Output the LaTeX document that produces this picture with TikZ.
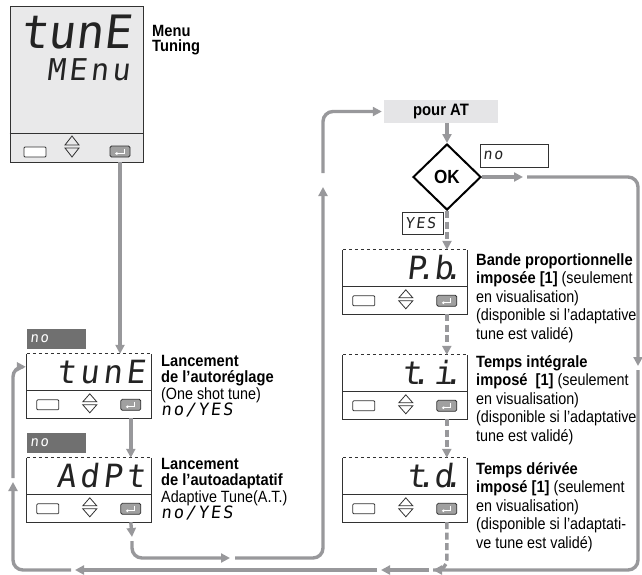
\documentclass[tikz,border=0pt]{standalone}
\usepackage{fontspec}
\setmainfont{Liberation Sans}[FakeStretch=0.88, BoldFeatures={FakeStretch=0.9}]
\newfontfamily\segfont{DejaVu Sans Mono}[FakeSlant=0.12]
\newfontfamily\segwide{DejaVu Sans Mono}[FakeSlant=0.12, LetterSpace=12]
\usetikzlibrary{arrows.meta,positioning,shapes.geometric}

\definecolor{flowgray}{RGB}{152,152,155}
\definecolor{lcdgray}{RGB}{233,233,234}
\definecolor{boxgray}{RGB}{229,229,231}
\definecolor{tagdark}{RGB}{112,112,112}
\definecolor{btngray}{RGB}{160,160,160}
\definecolor{rimgray}{RGB}{50,50,50}
\definecolor{lcdtext}{RGB}{35,35,35}

% point decimal de l'afficheur
\newcommand{\dotcell}{\kern-0.3em.\kern-0.05em}

\tikzset{
  panel/.style={fill=white, minimum width=124pt, minimum height=64pt, inner sep=0},
  rim/.style={draw=rimgray, line width=0.9pt},
  lcd/.style={font=\segwide\fontsize{32}{32}\selectfont, text=lcdtext, inner sep=0},
  esckey/.style={draw=rimgray, line width=0.8pt, fill=white, rounded corners=1pt,
    minimum width=22pt, minimum height=10pt, inner sep=0},
  entkey/.style={draw=rimgray, line width=0.8pt, fill=btngray, rounded corners=1.5pt,
    minimum width=20pt, minimum height=11pt, inner sep=0},
  retsym/.style={draw=white, line width=0.9pt, -{Triangle[length=2.4pt,width=3.2pt]}},
}

% afficheur a touches : nom, gauche, haut, texte
\newcommand{\lcdpanel}[4]{%
  \node[panel] (#1) at (#2+62,#3+32) {};
  \draw[rim] (#1.north west) -- (#1.south west) -- (#1.south east) -- (#1.north east);
  \draw[rim, dashed] (#1.north west) -- (#1.north east);
  \draw[rim] ([yshift=-37pt]#1.north west) -- ([yshift=-37pt]#1.north east);
  \node[lcd, anchor=base east] (#1-lcd) at ([xshift=-6pt,yshift=-30pt]#1.north east) {#4};
  \node[esckey] (#1-esc) at ([xshift=21pt,yshift=-51pt]#1.north west) {};
  \draw[rim, line width=0.8pt] ([xshift=56pt,yshift=-48pt]#1.north west) -- ++(7,-8) -- ++(7,8) -- cycle;
  \draw[rim, line width=0.8pt] ([xshift=56pt,yshift=-51pt]#1.north west) -- ++(7,8) -- ++(7,-8) -- cycle;
  \node[entkey] (#1-ent) at ([xshift=104pt,yshift=-51pt]#1.north west) {};
  \draw[retsym] ([xshift=4pt,yshift=3pt]#1-ent.center) -- ++(0,5) -- ++(-9,0);
}

\begin{document}
\begin{tikzpicture}[x=1pt, y=-1pt,
    flowarrow/.style={draw=flowgray, line width=3.4pt, rounded corners=10pt,
      -{Triangle[length=9pt,width=9pt]}},
    flowdash/.style={flowarrow, dash pattern=on 7pt off 3.5pt},
    flowend/.style={draw=flowgray, line width=3.4pt, rounded corners=10pt, dash pattern=on 7pt off 3.5pt},
    desc/.style={font=\fontsize{16.3}{18.5}\selectfont, align=left, anchor=north west, inner sep=0},
    descl/.style={desc, font=\fontsize{16.3}{16.5}\selectfont},
    graytag/.style={fill=tagdark, text=white, font=\segwide\fontsize{14}{14}\selectfont,
      text width=53pt, align=left, minimum height=20pt, inner sep=3pt},
    linetag/.style={draw=rimgray, line width=0.8pt, fill=white, text=lcdtext,
      font=\segwide\fontsize{15}{15}\selectfont, align=left, inner sep=3pt}]
\useasboundingbox (0,0) rectangle (642,574);

% menu tuning
\node[panel, fill=lcdgray, draw=rimgray, line width=0.9pt, minimum width=133pt, minimum height=156pt] (menu) at (76.5,84) {};
\draw[rim] ([yshift=-128pt]menu.north west) -- ([yshift=-128pt]menu.north east);
\node[lcd, font=\segfont\fontsize{46}{46}\selectfont, anchor=base west] (menu-lcd1) at (20,48) {tunE};
\node[lcd, font=\segwide\fontsize{30}{30}\selectfont, anchor=base east] (menu-lcd2) at (130,80) {MEnu};
\node[esckey] (menu-esc) at (35,152) {};
\draw[rim, line width=0.8pt] (65,145) -- ++(7,-9) -- ++(7,9) -- cycle;
\draw[rim, line width=0.8pt] (65,148) -- ++(7,9) -- ++(7,-9) -- cycle;
\node[entkey] (menu-ent) at (120,151.5) {};
\draw[retsym] ([xshift=4pt,yshift=3pt]menu-ent.center) -- ++(0,5) -- ++(-9,0);
\node[descl, font=\fontsize{16.3}{15.5}\selectfont] (menu-txt) at (152,25) {\textbf{Menu}\\\textbf{Tuning}};

% afficheurs
\lcdpanel{tune}{27}{354}{tunE}
\lcdpanel{adpt}{27}{458}{AdPt}
\lcdpanel{pb}{343}{250}{\segfont P\dotcell b\dotcell}
\lcdpanel{ti}{343}{355}{\segfont t\dotcell\kern0.15em i\dotcell}
\lcdpanel{td}{343}{458}{\segfont t\dotcell d\dotcell}

\node[graytag] (tune-tag) at (56.5,339) {no};
\node[graytag] (adpt-tag) at (56.5,442.5) {no};

% textes
\node[descl] (tune-txt) at (161,355) {\textbf{Lancement}\\\textbf{de l’autoréglage}\\(One shot tune)\\{\segwide\fontsize{17}{17}\selectfont no/YES}};
\node[descl] (adpt-txt) at (161,458) {\textbf{Lancement}\\\textbf{de l’autoadaptatif}\\Adaptive Tune(A.T.)\\{\segwide\fontsize{17}{17}\selectfont no/YES}};
\node[desc] (pb-txt) at (476,253) {\textbf{Bande proportionnelle}\\\textbf{imposée [1]} (seulement\\en visualisation)\\(disponible si l’adaptative\\tune est validé)};
\node[desc] (ti-txt) at (476,355) {\textbf{Temps intégrale}\\\textbf{imposé\ \ [1]} (seulement\\en visualisation)\\(disponible si l’adaptative\\tune est validé)};
\node[desc] (td-txt) at (476,462) {\textbf{Temps dérivée}\\\textbf{imposé [1]} (seulement\\en visualisation)\\(disponible si l’adaptati-\\ve tune est validé)};

% test AT
\node[fill=boxgray, minimum width=114pt, minimum height=23pt, inner sep=0, font=\bfseries\fontsize{16.5}{16.5}\selectfont] (pour) at (441,111.5) {pour AT};
\node[diamond, draw=black, line width=2pt, fill=white, minimum width=68pt, minimum height=66pt, inner sep=0,
  font=\bfseries\fontsize{19}{19}\selectfont] (ok) at (447,177) {OK};
\node[linetag, text width=62pt, minimum height=23pt] (ok-no) at (514,155.5) {no};
\node[linetag, text width=35pt, minimum height=22pt] (ok-yes) at (422.5,223) {YES};

% points de passage
\coordinate (gA1) at (132,537);
\coordinate (gA2) at (132,541);
\coordinate (gA3) at (230,558);
\coordinate (gA4) at (235,558);
\coordinate (gA5) at (323,187);
\coordinate (gA6) at (323,173);
\coordinate (gB1) at (523,177);
\coordinate (gB2) at (527,177);
\coordinate (gB3) at (638,366);
\coordinate (gB4) at (638,370);
\coordinate (gB5) at (433,570);
\coordinate (gB6) at (429,570);
\coordinate (gB7) at (381,570);
\coordinate (gB8) at (377,570);
\coordinate (gB9) at (75,570);
\coordinate (gB10) at (71,570);
\coordinate (gB11) at (13,482);
\coordinate (gB12) at (13,478);

% liaisons
\draw[flowarrow] (menu-ent |- menu.south) -- (menu-ent |- tune.north);
\draw[flowarrow] (tune-ent |- tune.south) -- (tune-ent |- adpt.north);
\draw[flowarrow] (adpt-ent |- adpt.south) -- (gA1);
\draw[flowarrow] (gA2) |- (gA3);
\draw[flowarrow] (gA4) -| (gA5);
\draw[flowarrow, shorten >=2pt] (gA6) |- (pour.west);
\draw[flowarrow] (ok.north |- pour.south) -- (ok.north);
\draw[flowarrow] (ok.east) -- (gB1);
\draw[flowarrow] (gB2) -| (gB3);
\draw[flowarrow] (gB4) |- (gB5);
\draw[flowarrow] (gB6) -- (gB7);
\draw[flowarrow] (gB8) -- (gB9);
\draw[flowarrow] (gB10) -| (gB11);
\draw[flowarrow, shorten >=1pt] (gB12) |- ([yshift=-13pt]tune.north west);
\draw[flowdash] (ok.south) -- (ok.south |- pb.north);
\draw[flowdash] (pb-ent |- pb.south) -- (pb-ent |- ti.north);
\draw[flowdash] (ti-ent |- ti.south) -- (ti-ent |- td.north);
\draw[flowend] (td-ent |- td.south) |- (gB5);
\end{tikzpicture}
\end{document}
